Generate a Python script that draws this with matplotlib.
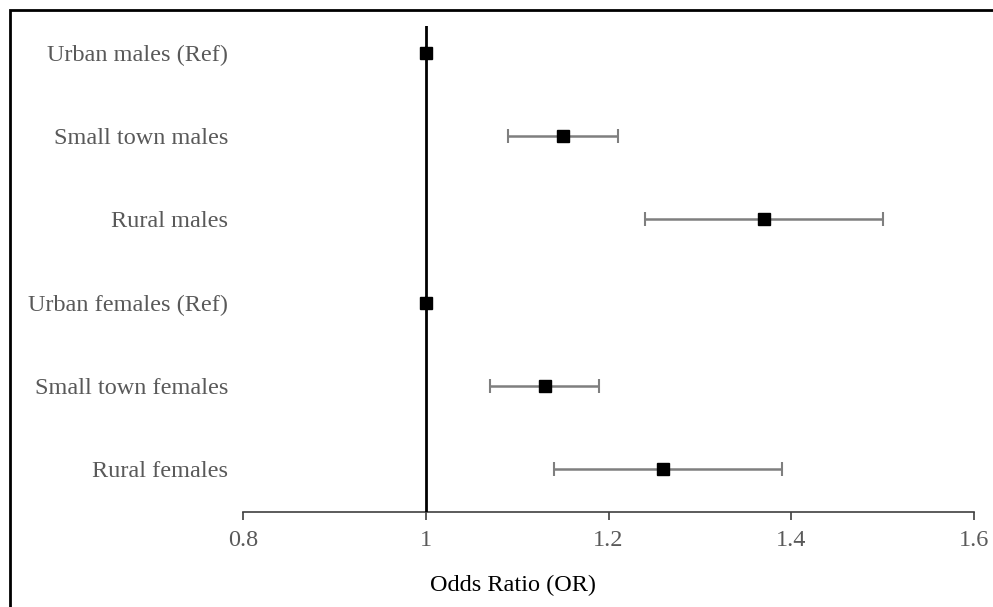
import matplotlib.pyplot as plt
from matplotlib.patches import Rectangle

# Odds ratios with 95% CI (top to bottom)
groups = ['Urban males (Ref)', 'Small town males', 'Rural males',
          'Urban females (Ref)', 'Small town females', 'Rural females']
odds = [1.00, 1.15, 1.37, 1.00, 1.13, 1.26]
ci_low = [1.00, 1.09, 1.24, 1.00, 1.07, 1.14]
ci_high = [1.00, 1.21, 1.50, 1.00, 1.19, 1.39]
xticks = [0.8, 1.0, 1.2, 1.4, 1.6]
xtick_labels = ['0.8', '1', '1.2', '1.4', '1.6']

W, H = 993, 607
fig = plt.figure(figsize=(W / 100, H / 100), dpi=100)
plt.rcParams['font.family'] = ['Liberation Serif', 'DejaVu Serif']
grey = '#595959'

# axes box in pixels: left 243, right 974, top 26, bottom 512
ax = fig.add_axes([243 / W, 1 - 512 / H, (974 - 243) / W, (512 - 26) / H])

pos = list(range(1, len(groups) + 1))
err_lo = [o - l for o, l in zip(odds, ci_low)]
err_hi = [h - o for o, h in zip(odds, ci_high)]
ax.errorbar(odds, pos, xerr=[err_lo, err_hi], fmt='none', ecolor='#7f7f7f',
            elinewidth=1.8, capsize=5, capthick=1.5, zorder=2)
ax.plot(odds, pos, 's', color='black', markersize=8.6, zorder=4)
ax.axvline(1.0, color='black', linewidth=2, zorder=3)

ax.set_xlim(0.8, 1.6)
ax.set_ylim(6.51, 0.68)
ax.set_xticks(xticks)
ax.set_xticklabels(xtick_labels, fontsize=17.5, color=grey)
ax.set_yticks(pos)
ax.set_yticklabels(groups, fontsize=17.5, color=grey)
ax.tick_params(axis='y', length=0, pad=10.5)
ax.tick_params(axis='x', length=6, width=1.2, color='#404040', pad=7)

for side in ['left', 'right', 'top']:
    ax.spines[side].set_visible(False)
ax.spines['bottom'].set_color('#404040')
ax.spines['bottom'].set_linewidth(1.2)

fig.text(513 / W, 1 - 585 / H, 'Odds Ratio (OR)', ha='center', va='center',
         fontsize=17.5, color='black')

# outer frame (only left and top edges fall inside the image)
fig.patches.append(Rectangle((10 / W, -0.1), 1.2, 1 - 10 / H + 0.1,
                             transform=fig.transFigure, fill=False,
                             edgecolor='black', linewidth=2))

fig.savefig('out.png', dpi=100, facecolor='white')
